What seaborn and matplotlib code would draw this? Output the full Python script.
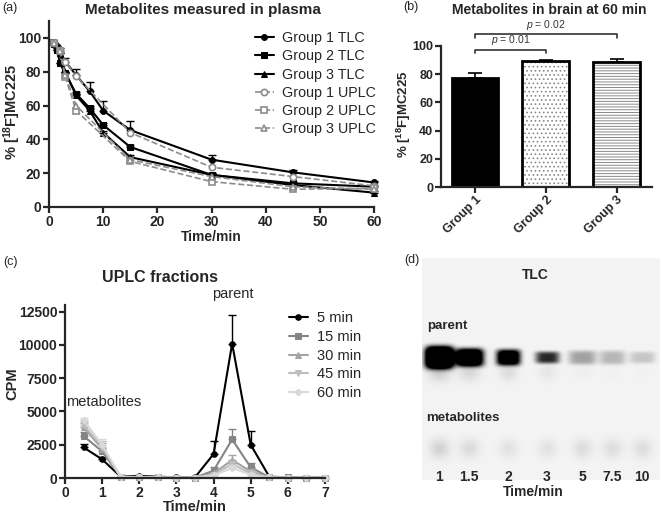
import seaborn as sns
import matplotlib.pyplot as plt
import numpy as np
import pandas as pd

# ---- data: (a) metabolites in plasma ----
tlc_time = [0.5, 1, 1.5, 2, 3, 5, 7.5, 10, 15, 30, 45, 60]
g1_tlc = [97.5, 97, 95, 92, 86, 78, 68.5, 57, 45.5, 28, 20.5, 14.5]
g2_tlc = [97.5, 97, 93, 85, 79, 67, 58.5, 48.5, 35.5, 19, 14, 12]
g3_tlc = [97.5, 96.5, 94, 91, 80, 66, 57, 44, 29.5, 19, 13, 8.5]
g1_tlc_err = [0, 0, 0, 2, 2, 3.5, 5.5, 5.5, 5.5, 3, 1.5, 1]
g2_tlc_err = [0, 0, 0, 0, 0, 1, 1, 1, 1, 1, 1, 1]
g3_tlc_err = [0, 0, 0, 0, 0, 1, 1, 1, 1, 1, 1, 1]

uplc_time = [1, 2, 3, 5, 15, 30, 45, 60]
g1_uplc = [97, 93, 86, 77.5, 44, 23.5, 18, 12.5]
g2_uplc = [97, 92, 77, 57, 27, 15, 10.5, 11]
g3_uplc = [97, 92, 78, 60, 28, 18, 12, 10.5]

# ---- data: (b) metabolites in brain ----
brain_groups = ['Group 1', 'Group 2', 'Group 3']
brain_mean = [77.5, 89.5, 88.5]
brain_err = [3.5, 0.5, 2.0]

# ---- data: (c) UPLC fractions ----
frac_time = [0.5, 1, 1.5, 2, 2.5, 3, 3.5, 4, 4.5, 5, 5.5, 6, 6.5, 7]
cpm_5 = [2300, 1400, 100, 150, 100, 50, 50, 1800, 10100, 2500, 100, 50, 30, 30]
cpm_15 = [3150, 2000, 80, 60, 40, 30, 30, 550, 2900, 800, 60, 40, 30, 30]
cpm_30 = [3800, 2200, 80, 50, 40, 30, 30, 350, 1350, 500, 50, 30, 30, 30]
cpm_45 = [4000, 2350, 80, 50, 40, 30, 30, 250, 1050, 350, 40, 30, 30, 30]
cpm_60 = [4350, 2500, 80, 50, 40, 30, 30, 200, 750, 250, 40, 30, 30, 30]
err_5 = [250, 150, 0, 0, 0, 0, 0, 1000, 2150, 1050, 0, 0, 0, 0]
err_15 = [300, 250, 0, 0, 0, 0, 0, 300, 750, 350, 0, 0, 0, 0]
err_30 = [300, 400, 0, 0, 0, 0, 0, 100, 350, 200, 0, 0, 0, 0]
err_45 = [300, 450, 0, 0, 0, 0, 0, 100, 250, 100, 0, 0, 0, 0]
err_60 = [150, 400, 0, 0, 0, 0, 0, 100, 200, 100, 0, 0, 0, 0]

# ---- data: (d) TLC plate spot intensities ----
tlc_lanes = ['1', '1.5', '2', '3', '5', '7.5', '10']
parent_intensity = [2.2, 1.6, 1.35, 0.8, 0.32, 0.24, 0.18]
metab_intensity = [0.13, 0.10, 0.07, 0.07, 0.09, 0.09, 0.09]

sns.set_style('ticks')
plt.rcParams['font.family'] = ['Liberation Sans', 'DejaVu Sans']
plt.rcParams['mathtext.fontset'] = 'custom'
plt.rcParams['mathtext.rm'] = 'Liberation Sans'
plt.rcParams['mathtext.bf'] = 'Liberation Sans:bold'
plt.rcParams['mathtext.it'] = 'Liberation Sans:italic'
plt.rcParams['hatch.linewidth'] = 0.7

fig = plt.figure(figsize=(6.62, 5.15), dpi=100)
W, H = 662, 515


def px_axes(x0, y0, x1, y1):
    return fig.add_axes([x0 / W, 1 - y1 / H, (x1 - x0) / W, (y1 - y0) / H])


def style_axes(ax, size=10):
    sns.despine(ax=ax)
    for s in ['left', 'bottom']:
        ax.spines[s].set_linewidth(1.6)
    ax.tick_params(width=1.6, length=4, labelsize=size, pad=1.5)
    for lbl in ax.get_xticklabels() + ax.get_yticklabels():
        lbl.set_fontweight('bold')


ylab = '% [$\\mathbf{^{18}}$F]MC225'

# ================= (a) =================
ax = px_axes(49, 21, 374, 207)
tlc_series = [(g1_tlc, g1_tlc_err, 'o', 'Group 1 TLC'),
              (g2_tlc, g2_tlc_err, 's', 'Group 2 TLC'),
              (g3_tlc, g3_tlc_err, '^', 'Group 3 TLC')]
for vals, err, mk, lab in tlc_series:
    ax.errorbar(tlc_time, vals, yerr=[np.zeros(len(err)), err], fmt='none',
                ecolor='black', elinewidth=1, capsize=3, capthick=1, clip_on=False)
    sns.lineplot(x=tlc_time, y=vals, ax=ax, color='black', marker=mk, markersize=4.2,
                 markeredgecolor='black', linewidth=1.5, label=lab, clip_on=False)
uplc_series = [(g1_uplc, 'o', 'Group 1 UPLC'),
               (g2_uplc, 's', 'Group 2 UPLC'),
               (g3_uplc, '^', 'Group 3 UPLC')]
for vals, mk, lab in uplc_series:
    sns.lineplot(x=uplc_time, y=vals, ax=ax, color='#8c8c8c', marker=mk, markersize=4.5,
                 markerfacecolor='white', markeredgecolor='#8c8c8c', markeredgewidth=1.2,
                 linestyle='--', linewidth=1.2, label=lab, clip_on=False)
ax.set_xlim(0, 60)
ax.set_ylim(0, 110)
ax.set_xticks(range(0, 61, 10))
ax.set_yticks(range(0, 101, 20))
style_axes(ax)
ax.set_xlabel('Time/min', fontsize=10, fontweight='bold', labelpad=1)
ax.set_ylabel('')
fig.text(12 / W, 1 - 112 / H, ylab, fontsize=10.5, fontweight='bold', rotation=90,
         ha='center', va='center')
ax.legend(loc='upper left', bbox_to_anchor=(255 / W, 1 - 31 / H), bbox_transform=fig.transFigure,
          frameon=False, fontsize=10.3, handlelength=1.3, handletextpad=0.6, labelspacing=0.3,
          borderaxespad=0, borderpad=0)
fig.text(203 / W, 1 - 10 / H, 'Metabolites measured in plasma', fontsize=11, fontweight='bold',
         ha='center', va='center')
fig.text(2 / W, 1 - 8 / H, '(a)', fontsize=9, ha='left', va='center')

# ================= (b) =================
ax = px_axes(441, 46, 652, 187)
bdf = pd.DataFrame({'group': brain_groups, 'value': brain_mean})
sns.barplot(data=bdf, x='group', y='value', hue='group', legend=False, ax=ax, width=0.66,
            palette=['black', 'white', 'white'], linewidth=0, saturation=1)
hatches = ['', '....', '------']
hatch_cols = ['black', '#8a8a8a', '#8a8a8a']
for p, h, c in zip(ax.patches, hatches, hatch_cols):
    p.set_hatch(h)
    p.set_edgecolor(c)
sns.barplot(data=bdf, x='group', y='value', ax=ax, width=0.66, fill=False,
            color='black', linewidth=2, edgecolor='black', errorbar=None)
ax.errorbar(range(3), brain_mean, yerr=[np.zeros(3), brain_err], fmt='none', ecolor='black',
            elinewidth=1.2, capsize=5, capthick=1.2)
ax.set_xlim(-0.48, 2.5)
ax.set_ylim(0, 100)
ax.set_yticks(range(0, 101, 20))
ax.set_xlabel('')
ax.set_ylabel('')
fig.text(404 / W, 1 - 114 / H, ylab, fontsize=9.5, fontweight='bold', rotation=90,
         ha='center', va='center')
style_axes(ax, size=9)
ax.tick_params(axis='x', length=4, pad=1)
for lbl in ax.get_xticklabels():
    lbl.set_rotation(45)
    lbl.set_ha('right')
    lbl.set_rotation_mode('anchor')
# significance brackets
for (i, j, yb, txt) in [(0, 1, 97.5, '$p$ = 0.01'), (0, 2, 108.5, '$p$ = 0.02')]:
    ax.plot([i, i, j, j], [yb - 2.8, yb, yb, yb - 2.8], color='#333333', lw=1.2, clip_on=False)
    ax.text((i + j) / 2, yb + 1.5, txt, ha='center', va='bottom', fontsize=7.5, color='#333333')
fig.text(549 / W, 1 - 10 / H, 'Metabolites in brain at 60 min', fontsize=10, fontweight='bold',
         ha='center', va='center')
fig.text(403 / W, 1 - 7 / H, '(b)', fontsize=9, ha='left', va='center')

# ================= (c) =================
ax = px_axes(65, 305, 325, 478)
frac_series = [(cpm_5, err_5, 'o', 'black', '5 min'),
               (cpm_15, err_15, 's', '#858585', '15 min'),
               (cpm_30, err_30, '^', '#a3a3a3', '30 min'),
               (cpm_45, err_45, 'v', '#bdbdbd', '45 min'),
               (cpm_60, err_60, 'D', '#d9d9d9', '60 min')]
for vals, err, mk, col, lab in frac_series:
    ax.errorbar(frac_time, vals, yerr=[np.zeros(len(err)), err], fmt='none', ecolor=col,
                elinewidth=1, capsize=3, capthick=1, clip_on=False)
    sns.lineplot(x=frac_time, y=vals, ax=ax, color=col, marker=mk, markersize=4 if mk != 'D' else 3.5,
                 markeredgecolor=col, linewidth=1.5, label=lab, clip_on=False)
ax.set_xlim(0, 7)
ax.set_ylim(0, 13000)
ax.set_xticks(range(0, 8))
ax.set_yticks(range(0, 12501, 2500))
style_axes(ax)
ax.set_xlabel('Time/min', fontsize=10.5, fontweight='bold', labelpad=0)
ax.set_ylabel('')
fig.text(12 / W, 1 - 384 / H, 'CPM', fontsize=10.5, fontweight='bold', rotation=90,
         ha='center', va='center')
ax.legend(loc='upper left', bbox_to_anchor=(289 / W, 1 - 311 / H), bbox_transform=fig.transFigure,
          frameon=False, fontsize=10.5, handlelength=1.3, handletextpad=0.6, labelspacing=0.33,
          borderaxespad=0, borderpad=0)
ax.text(1.05, 5200, 'metabolites', fontsize=10.5, ha='center', va='bottom')
ax.text(4.53, 13300, 'parent', fontsize=10.5, ha='center', va='bottom', clip_on=False)
fig.text(160 / W, 1 - 277 / H, 'UPLC fractions', fontsize=11.5, fontweight='bold',
         ha='center', va='center')
fig.text(3 / W, 1 - 262 / H, '(c)', fontsize=9, ha='left', va='center')

# ================= (d) =================
ax = px_axes(422, 258, 660, 480)
img_w, img_h = 238, 222
lane_x = [17, 47, 86, 125, 160, 190, 220]
parent_y, metab_y = 99, 190
parent_half = [(14, 11), (14, 9), (12, 8), (12, 6), (14, 7), (13, 7), (13, 6)]
yy, xx = np.mgrid[0:img_h, 0:img_w]
plate = np.full((img_h, img_w), 0.955)
for lx, amp, (hx, hy), mamp in zip(lane_x, parent_intensity, parent_half, metab_intensity):
    band = np.exp(-(((xx - lx) / hx) ** 4 + ((yy - parent_y) / hy) ** 4))
    tail = np.exp(-(((xx - lx) / (hx * 0.8)) ** 2 + ((yy - parent_y - 14) / 10) ** 2))
    spot = np.exp(-(((xx - lx) / 10) ** 2 + ((yy - metab_y) / 10) ** 2))
    plate -= amp * band + 0.07 * amp * tail + mamp * spot
plate = np.clip(plate, 0, 1)
ax.imshow(plate, cmap='gray', vmin=0, vmax=1, extent=(0, img_w, img_h, 0), aspect='auto',
          interpolation='bilinear')
ax.set_xlim(0, img_w)
ax.set_ylim(img_h, 0)
ax.axis('off')
for lx, lab in zip(lane_x, tlc_lanes):
    ax.text(lx, 219, lab, fontsize=10, fontweight='bold', ha='center', va='center')
ax.text(5, 68, 'parent', fontsize=9.5, fontweight='bold', ha='left', va='center')
ax.text(4, 160, 'metabolites', fontsize=9.5, fontweight='bold', ha='left', va='center')
ax.text(113, 17, 'TLC', fontsize=10, fontweight='bold', ha='center', va='center')
fig.text(533 / W, 1 - 492 / H, 'Time/min', fontsize=10, fontweight='bold', ha='center', va='center')
fig.text(404 / W, 1 - 260 / H, '(d)', fontsize=9, ha='left', va='center')

fig.savefig('out.png', dpi=100)
